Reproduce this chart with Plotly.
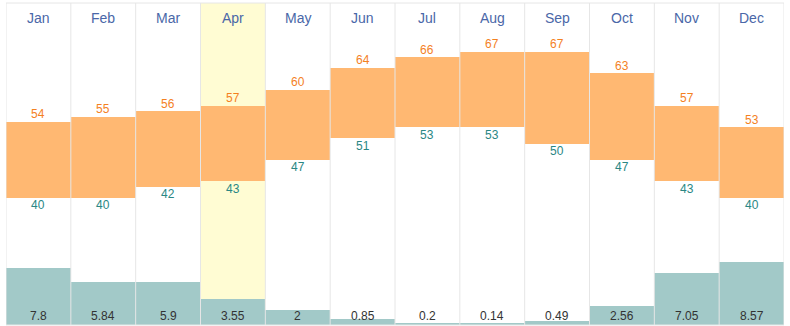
import plotly.graph_objects as go

months = ["Jan", "Feb", "Mar", "Apr", "May", "Jun", "Jul", "Aug", "Sep", "Oct", "Nov", "Dec"]
high_temp = [54, 55, 56, 57, 60, 64, 66, 67, 67, 63, 57, 53]
low_temp = [40, 40, 42, 43, 47, 51, 53, 53, 50, 47, 43, 40]
precip = [7.8, 5.84, 5.9, 3.55, 2, 0.85, 0.2, 0.14, 0.49, 2.56, 7.05, 8.57]
highlight_month = "Apr"

FONT = "Liberation Sans, Arial, Helvetica, sans-serif"
xs = list(range(len(months)))

fig = go.Figure()

# temperature range bars
fig.add_trace(go.Bar(
    x=xs, y=[h - l for h, l in zip(high_temp, low_temp)], base=low_temp,
    marker=dict(color="#ffb872", line=dict(width=0)), width=1.0,
    yaxis="y", hoverinfo="skip", showlegend=False))
# precipitation bars
fig.add_trace(go.Bar(
    x=xs, y=precip, marker=dict(color="#a2c9c8", line=dict(width=0)), width=1.0,
    yaxis="y2", hoverinfo="skip", showlegend=False))

shapes = []
hi = months.index(highlight_month)
shapes.append(dict(type="rect", xref="x", yref="paper", x0=hi - 0.5, x1=hi + 0.5, y0=0, y1=1,
                   fillcolor="#fffcd3", line=dict(width=0), layer="below"))
for i in range(len(months) + 1):
    shapes.append(dict(type="line", xref="x", yref="paper", x0=i - 0.5, x1=i - 0.5, y0=0, y1=1,
                       line=dict(color="#e6e6e6", width=1), layer="above"))
for yy in (0, 1):
    shapes.append(dict(type="line", xref="paper", yref="paper", x0=0, x1=1, y0=yy, y1=yy,
                       line=dict(color="#e6e6e6", width=1), layer="above"))

annotations = []
for i, m in enumerate(months):
    annotations.append(dict(x=i, xref="x", y=1, yref="paper", yanchor="top", yshift=-5,
                            text=m, showarrow=False,
                            font=dict(color="#4a67a8", size=14, family=FONT)))
    annotations.append(dict(x=i, xref="x", y=0, yref="paper", yanchor="bottom", yshift=0,
                            text=str(precip[i]), showarrow=False,
                            font=dict(color="#333333", size=12, family=FONT)))
    annotations.append(dict(x=i, xref="x", y=high_temp[i], yref="y", yanchor="bottom", yshift=-1.5,
                            text=str(high_temp[i]), showarrow=False,
                            font=dict(color="#f4811f", size=12, family=FONT)))
    annotations.append(dict(x=i, xref="x", y=low_temp[i], yref="y", yanchor="top", yshift=1.5,
                            text=str(low_temp[i]), showarrow=False,
                            font=dict(color="#2a8784", size=12, family=FONT)))

fig.update_layout(
    width=790, height=326,
    margin=dict(l=6, r=6, t=3, b=1),
    paper_bgcolor="white", plot_bgcolor="white",
    barmode="overlay", bargap=0,
    xaxis=dict(range=[-0.5, len(months) - 0.5], showgrid=False, zeroline=False,
               showticklabels=False, ticks=""),
    yaxis=dict(range=[16.46, 76.0], visible=False, showgrid=False, zeroline=False),
    yaxis2=dict(range=[0, 43.8], overlaying="y", visible=False, showgrid=False, zeroline=False),
    shapes=shapes, annotations=annotations,
    font=dict(family=FONT),
)

fig.write_html("out.html")
